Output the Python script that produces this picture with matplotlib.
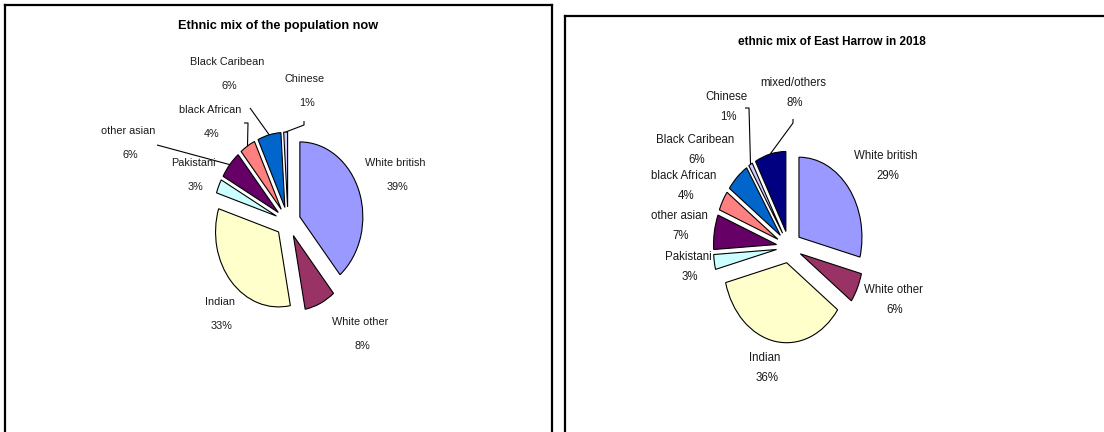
import matplotlib
matplotlib.use('Agg')
import matplotlib.pyplot as plt
import numpy as np

# ---------------- data ----------------
categories_now = ['White british', 'White other', 'Indian', 'Pakistani', 'other asian',
                  'black African', 'Black Caribean', 'Chinese']
values_now = [39, 8, 33, 3, 6, 4, 6, 1]

categories_2018 = ['White british', 'White other', 'Indian', 'Pakistani', 'other asian',
                   'black African', 'Black Caribean', 'Chinese', 'mixed/others']
values_2018 = [29, 6, 36, 3, 7, 4, 6, 1, 8]

title_now = 'Ethnic mix of the population now'
title_2018 = 'ethnic mix of East Harrow in 2018'

color_map = {
    'White british': '#9999FF', 'White other': '#993366', 'Indian': '#FFFFCC',
    'Pakistani': '#CCFFFF', 'other asian': '#660066', 'black African': '#FF8080',
    'Black Caribean': '#0066CC', 'Chinese': '#CCCCFF', 'mixed/others': '#000080',
}

# ---------------- layout (pixels, origin top-left) ----------------
W, H, DPI = 1104, 432, 100
EXPLODE = 0.2
FONT = ['Liberation Sans', 'DejaVu Sans']

panels = [
    dict(cats=categories_now, vals=values_now, title=title_now,
         rect=(5, 5, 552, 445), center=(288, 222), rh=63, rv=75,
         title_pos=(278, 26), title_size=9.2, fsize=7.8, gap=24,
         labels={'White british': (395, 163), 'White other': (360, 322), 'Indian': (220, 302),
                 'Pakistani': (193, 163), 'other asian': (128, 131), 'black African': (210, 110),
                 'Black Caribean': (227, 62), 'Chinese': (305, 79)},
         leaders={'Black Caribean': [(250, 108)], 'black African': [(244, 123), (248, 123)],
                  'other asian': [(157, 145)], 'Chinese': [(304, 121), (304, 125)]}),
    dict(cats=categories_2018, vals=values_2018, title=title_2018,
         rect=(565, 16, 1108, 445), center=(789, 247), rh=63, rv=80,
         title_pos=(832, 42), title_size=8.5, fsize=8.3, gap=20,
         labels={'White british': (886, 156), 'White other': (893, 290), 'Indian': (765, 358),
                 'Pakistani': (688, 257), 'other asian': (679, 216), 'black African': (684, 176),
                 'Black Caribean': (695, 140), 'Chinese': (726, 97), 'mixed/others': (793, 83)},
         leaders={'Chinese': [(745, 108), (749, 108)], 'mixed/others': [(793, 119), (793, 123)]}),
]

fig = plt.figure(figsize=(W / DPI, H / DPI), dpi=DPI)
fig.patch.set_facecolor('white')

for p in panels:
    x0, y0, x1, y1 = p['rect']
    cx, cy = p['center']
    rh, rv = p['rh'], p['rv']
    ax = fig.add_axes([x0 / W, 1 - y1 / H, (x1 - x0) / W, (y1 - y0) / H])

    def to_data(pt, cx=cx, cy=cy, rh=rh, rv=rv):
        return ((pt[0] - cx) / rh, (cy - pt[1]) / rv)

    cols = [color_map[c] for c in p['cats']]
    wedges, _ = ax.pie(p['vals'], colors=cols, startangle=90, counterclock=False,
                       explode=[EXPLODE] * len(p['vals']), radius=1,
                       wedgeprops=dict(edgecolor='black', linewidth=0.8))
    ax.set_xlim((x0 - cx) / rh, (x1 - cx) / rh)
    ax.set_ylim((cy - y1) / rv, (cy - y0) / rv)
    ax.set_aspect('auto')
    ax.set_frame_on(True)
    ax.set_xticks([])
    ax.set_yticks([])
    for s in ax.spines.values():
        s.set_linewidth(1.6)
        s.set_color('black')

    total = float(sum(p['vals']))
    for w, cat, v in zip(wedges, p['cats'], p['vals']):
        lx, ly = p['labels'][cat]
        pct = f"{round(100 * v / total):.0f}%"
        tx, ty = to_data((lx, ly))
        ax.text(tx, ty, cat, ha='center', va='center', family=FONT,
                fontsize=p['fsize'], color='#1a1a1a')
        tx2, ty2 = to_data((lx + 2, ly + p['gap']))
        ax.text(tx2, ty2, pct, ha='center', va='center', family=FONT,
                fontsize=p['fsize'], color='#1a1a1a')
        if cat in p['leaders']:
            mid = np.deg2rad((w.theta1 + w.theta2) / 2)
            ex, ey = w.center
            end = (ex + np.cos(mid), ey + np.sin(mid))
            pts = [to_data(q) for q in p['leaders'][cat]] + [end]
            xs, ys = zip(*pts)
            ax.plot(xs, ys, color='black', linewidth=0.8, solid_capstyle='butt')

    tx, ty = to_data(p['title_pos'])
    ax.text(tx, ty, p['title'], ha='center', va='center', fontweight='bold',
            family=FONT, fontsize=p['title_size'])

fig.savefig('out.png', dpi=DPI, facecolor='white')
